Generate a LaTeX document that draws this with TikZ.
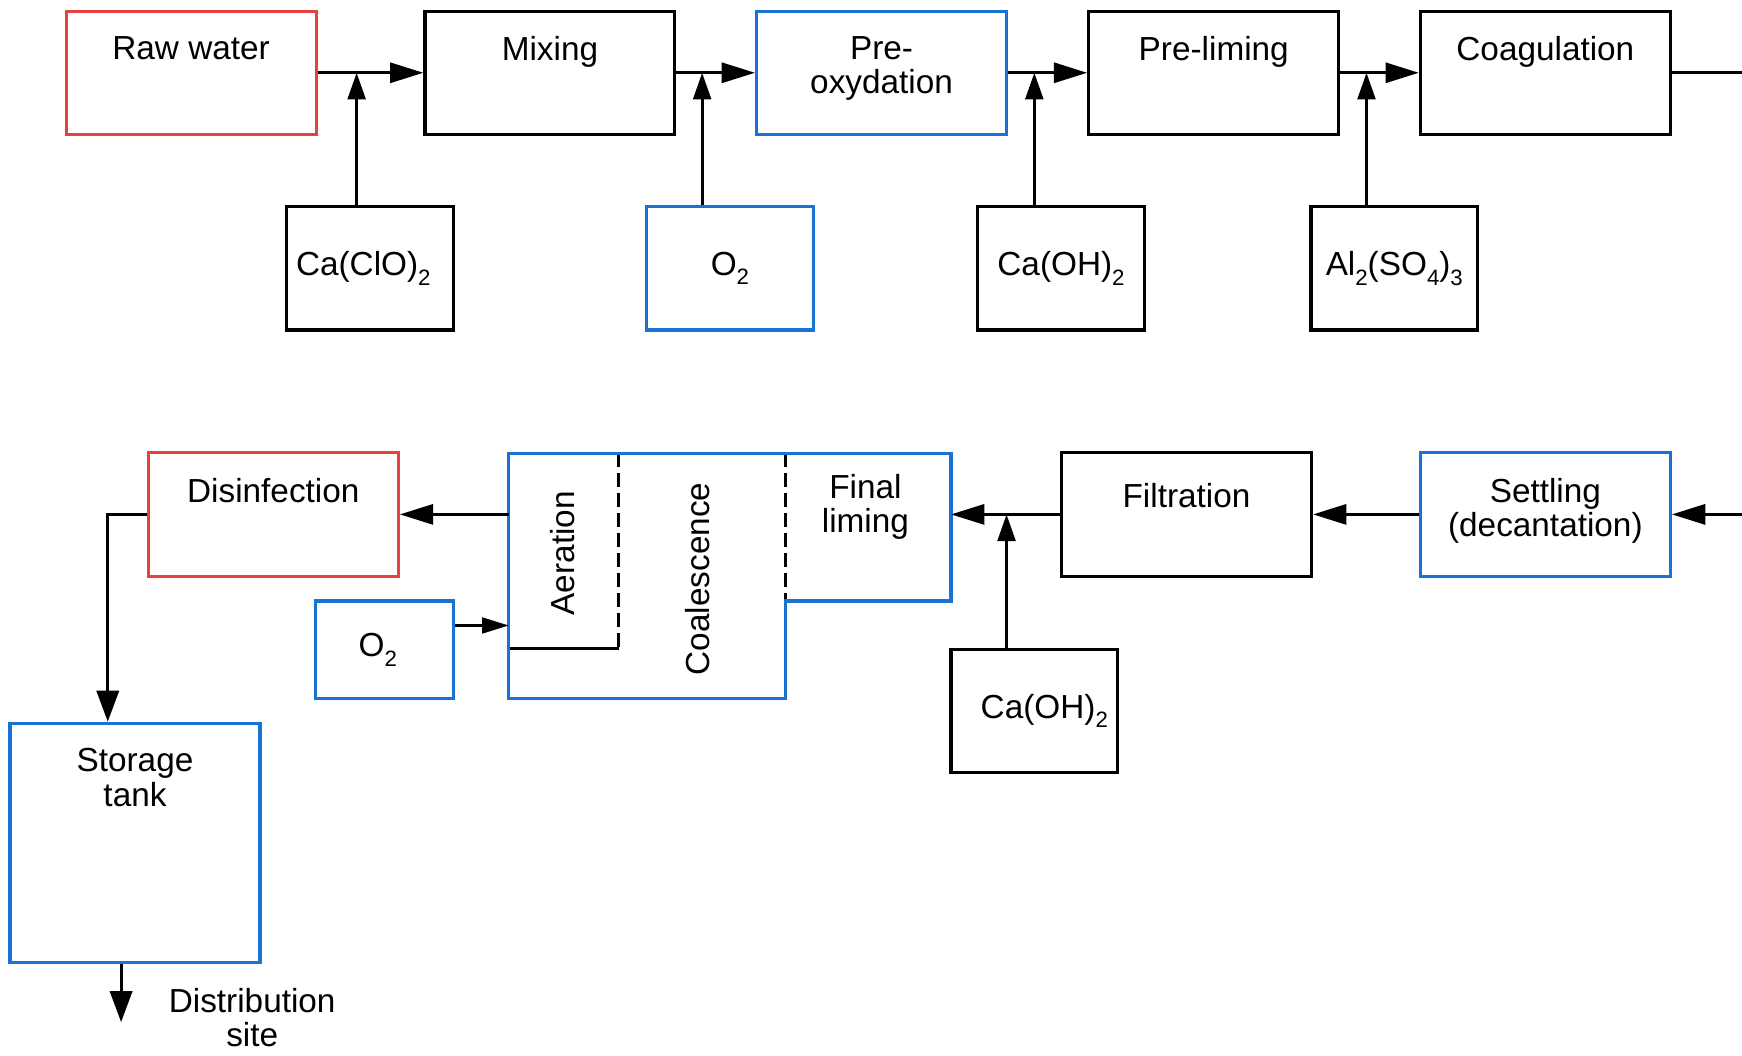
\documentclass[tikz,border=0pt]{standalone}
\usepackage{fontspec}
\setmainfont{Liberation Sans}
\usepackage{xcolor}
\usepackage{tikz}
\usetikzlibrary{arrows.meta}
\definecolor{boxred}{RGB}{232,64,64}
\definecolor{boxblue}{RGB}{26,115,210}
\newcommand{\sbs}[1]{\raisebox{-0.55ex}{\fontsize{10}{10}\selectfont#1}}

\begin{document}
\begin{tikzpicture}[x=0.5pt,y=-0.5pt,
  every node/.style={font=\fontsize{15}{15.5}\selectfont},
  box/.style={draw,line width=1.4pt,minimum width=112.5pt,minimum height=55.5pt,inner sep=0pt},
  chem/.style={box,minimum width=75pt},
  rd/.style={draw=boxred},
  bl/.style={draw=boxblue},
  ttl/.style={label={[anchor=north,yshift=-8.5pt,align=center]north:#1}},
  ln/.style={line width=1.4pt},
  hfl/.style={ln,-{Triangle[length=15pt,width=9pt]}},
  vfl/.style={ln,-{Triangle[length=12pt,width=8pt]}},
  dfl/.style={ln,-{Triangle[length=14pt,width=10pt]}},
  dv/.style={line width=1.4pt,dash pattern=on 6pt off 3pt}
]
\useasboundingbox (0,0) rectangle (1568,950);
% upper line
\node[box,rd,ttl={Raw water}] (raw) at (172,65.5) {};
\node[box,ttl={Mixing}] (mix) at (495,65.5) {};
\node[box,bl,ttl={Pre-\\oxydation}] (preox) at (793.5,65.5) {};
\node[box,ttl={Pre-liming}] (prelim) at (1092.5,65.5) {};
\node[box,ttl={Coagulation}] (coag) at (1391,65.5) {};
\node[chem] (cla) at (333,241.5) {\hspace*{-6pt}Ca(ClO)\sbs{2}};
\node[chem,bl] (oxa) at (657,241.5) {O\sbs{2}};
\node[chem] (lima) at (955,241.5) {Ca(OH)\sbs{2}};
\node[chem] (alum) at (1255,241.5) {Al\sbs{2}(SO\sbs{4})\sbs{3}};
\coordinate (j1) at (321,65.5);
\coordinate (j2) at (632,65.5);
\coordinate (j3) at (931,65.5);
\coordinate (j4) at (1230,65.5);
\coordinate (outR) at (1568,65.5);
\foreach \a/\b in {raw/mix,mix/preox,preox/prelim,prelim/coag}
  \draw[hfl] (\a.east) -- (\b.west);
\foreach \c/\j in {cla/j1,oxa/j2,lima/j3,alum/j4}
  \draw[vfl] (\j |- \c.north) -- (\j);
\draw[ln] (coag.east) -- (outR);
% lower line
\node[box,bl,ttl={Settling\\(decantation)}] (settl) at (1391,463) {};
\node[box,label={[anchor=north,yshift=-11pt]north:Filtration}] (filt) at (1068,463) {};
\node[box,rd,ttl={Disinfection}] (dis) at (246,463) {};
\node[chem] (limb) at (931,640) {\hspace*{9pt}Ca(OH)\sbs{2}};
\node[box,bl,minimum width=62pt,minimum height=44pt] (oxb) at (346,585) {\hspace*{-6pt}O\sbs{2}};
\node[box,bl,minimum height=107.5pt,ttl={Storage\\tank}] (store) at (121.5,758.5) {};
% aeration / coalescence / final liming tank
\draw[dv] (557,408) -- (557,584);
\draw[line width=1.4pt] (557,584) -- (458,584);
\draw[dv] (707,408) -- (707,541);
\draw[bl,line width=1.4pt] (458,408) -- (856,408) -- (856,541) -- (707,541)
  -- (707,629) -- (458,629) -- cycle;
\node[rotate=90] (aer) at (506,498) {Aeration};
\node[rotate=90] (coal) at (628,521) {Coalescence};
\node[align=center] (fin) at (779,456) {Final\\liming};
\coordinate (cmpW) at (458,463);
\coordinate (cmpE) at (856,463);
\coordinate (cmpIn) at (458,563);
\coordinate (j5) at (906,463);
\coordinate (inR) at (1568,463);
\coordinate (out) at (109,920);
\draw[hfl] (inR) -- (settl.east);
\draw[hfl] (settl.west) -- (filt.east);
\draw[hfl] (filt.west) -- (cmpE);
\draw[vfl] (j5 |- limb.north) -- (j5);
\draw[hfl] (cmpW) -- (dis.east);
\draw[ln,-{Triangle[length=12pt,width=7pt]}] (cmpIn -| oxb.east) -- (cmpIn);
\draw[dfl] (dis.west) -| ([xshift=-12.25pt]store.north);
\draw[dfl] (out |- store.south) -- (out);
\node[align=center] (dist) at (227,916) {Distribution\\site};
\end{tikzpicture}
\end{document}
